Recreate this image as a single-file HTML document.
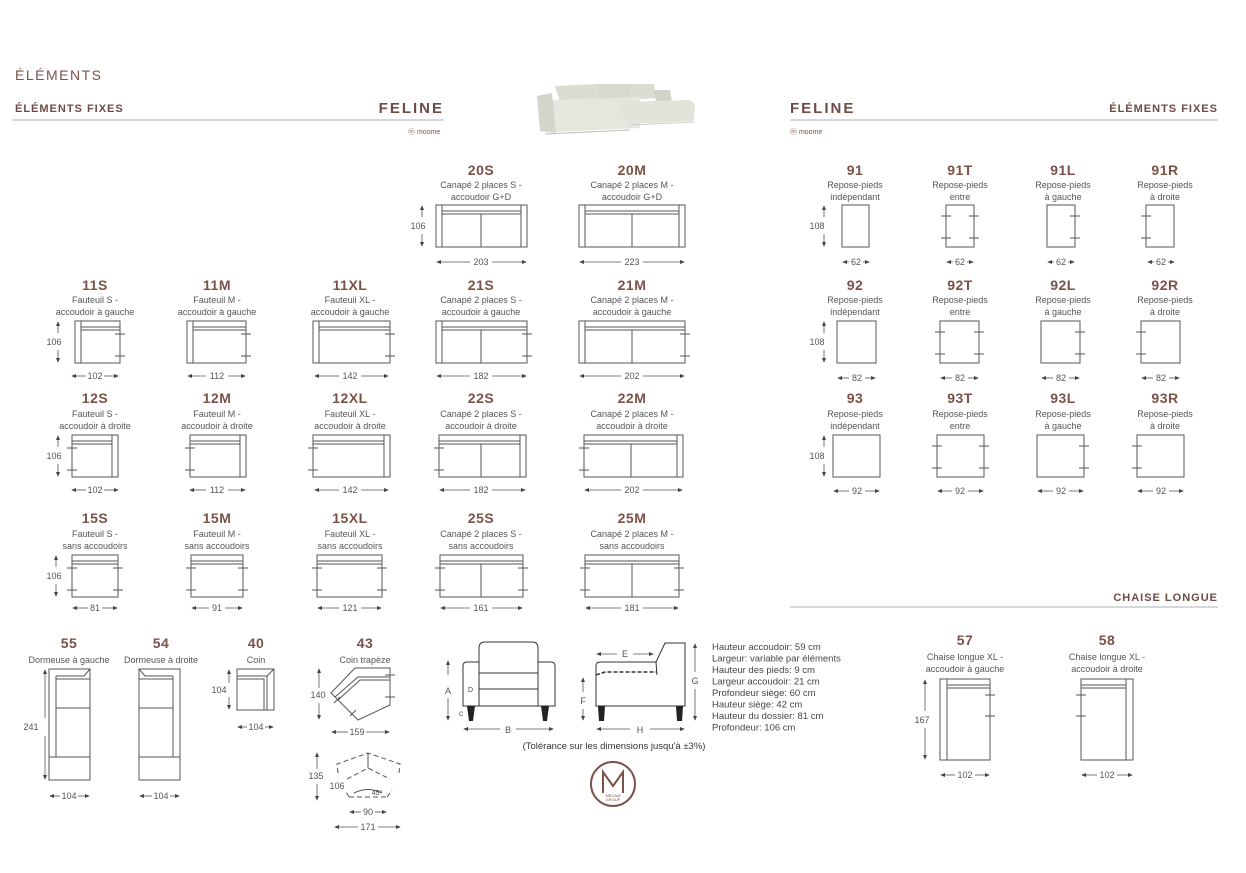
<!DOCTYPE html>
<html><head><meta charset="utf-8"><style>
html,body{margin:0;padding:0;background:#fff}
svg{display:block}
text{font-family:"Liberation Sans",sans-serif;fill:#444}
.t{font-size:14px;font-weight:bold;fill:#7b5249;text-anchor:middle;letter-spacing:0.5px}
.d{font-size:9px;text-anchor:middle;fill:#555}
.n{font-size:9px;text-anchor:middle;fill:#555}
.s{stroke:#555;stroke-width:1;fill:none}
.a{stroke:#555;stroke-width:0.8;fill:none;marker-end:url(#ah)}
.h{font-size:12px;font-weight:bold;fill:#6e4c45;letter-spacing:1px}
</style></head><body>
<svg width="1246" height="873" viewBox="0 0 1246 873" xmlns="http://www.w3.org/2000/svg">
<defs><marker id="ah" markerWidth="6" markerHeight="6" refX="5" refY="3" orient="auto"><path d="M0,0.5 L6,3 L0,5.5z" fill="#444"/></marker></defs>

<!-- header -->
<text x="15" y="80" style="font-size:14px;letter-spacing:1.5px;fill:#7b5249">ÉLÉMENTS</text>
<text x="15" y="112" class="h" style="font-size:11px">ÉLÉMENTS FIXES</text>
<text x="444" y="113" class="h" style="font-size:15px;text-anchor:end;letter-spacing:2px">FELINE</text>
<line x1="12" y1="120" x2="444" y2="120" stroke="#999" stroke-width="0.8"/>
<text x="408" y="134" style="font-size:7px;fill:#7b5249">ⓜ moome</text>
<text x="790" y="113" class="h" style="font-size:15px;letter-spacing:2px">FELINE</text>
<text x="1218" y="112" class="h" style="font-size:11px;text-anchor:end">ÉLÉMENTS FIXES</text>
<line x1="790" y1="120" x2="1218" y2="120" stroke="#999" stroke-width="0.8"/>
<text x="790" y="134" style="font-size:7px;fill:#7b5249">ⓜ moome</text>
<!-- sofa photo -->
<g>
<path d="M555,86 L596,84 L600,100 L560,102Z" fill="#dcdcd2"/>
<path d="M596,84 L630,84 L632,100 L600,100Z" fill="#d8d8ce"/>
<path d="M630,84 L654,84 L656,98 L632,100Z" fill="#dcdcd2"/>
<path d="M654,90 L670,90 L672,102 L656,102Z" fill="#d2d2c8"/>
<path d="M552,100 L640,97 L640,128 L555,132Z" fill="#e6e6de"/>
<path d="M620,102 L690,100 L695,104 L694,121 L625,124Z" fill="#e3e3da"/>
<path d="M537,96 L552,93 L556,133 L540,131Z" fill="#d4d4ca"/>
<line x1="545" y1="134" x2="630" y2="130" stroke="#bbb"/>
<line x1="630" y1="125" x2="694" y2="122" stroke="#ccc"/>
</g>
<text x="1218" y="601" class="h" style="font-size:11px;text-anchor:end">CHAISE LONGUE</text>
<line x1="790" y1="607" x2="1218" y2="607" stroke="#999" stroke-width="0.8"/>

<!-- ===== row 20 ===== -->
<text x="481" y="175" class="t">20S</text>
<text x="481" y="188" class="d">Canapé 2 places S -</text><text x="481" y="200" class="d">accoudoir  G+D</text>
<rect x="436" y="205" width="91" height="42" class="s"/>
<path class="s" d="M442,205V247M521,205V247M442,211H521M442,214H521M481,214V247"/>
<text x="632" y="175" class="t">20M</text>
<text x="632" y="188" class="d">Canapé 2 places M -</text><text x="632" y="200" class="d">accoudoir  G+D</text>
<rect x="579" y="205" width="106" height="42" class="s"/>
<path class="s" d="M585,205V247M679,205V247M585,211H679M585,214H679M632,214V247"/>
<text x="418" y="229" class="n">106</text>
<line x1="422" y1="217" x2="422" y2="206" class="a"/><line x1="422" y1="234" x2="422" y2="246" class="a"/>
<text x="481" y="265" class="n">203</text><line x1="470" y1="262" x2="437" y2="262" class="a"/><line x1="492" y1="262" x2="526" y2="262" class="a"/>
<text x="632" y="265" class="n">223</text><line x1="621" y1="262" x2="580" y2="262" class="a"/><line x1="643" y1="262" x2="684" y2="262" class="a"/>

<!-- ===== row 11 ===== -->
<text x="95" y="290" class="t">11S</text><text x="95" y="303" class="d">Fauteuil S -</text><text x="95" y="315" class="d">accoudoir à gauche</text>
<rect x="75" y="321" width="45" height="42" class="s"/><path class="s" d="M81,321V363M81,327H120M81,330H120M115,334H125M115,356H125M120,334V356"/>
<text x="217" y="290" class="t">11M</text><text x="217" y="303" class="d">Fauteuil M -</text><text x="217" y="315" class="d">accoudoir à gauche</text>
<rect x="187" y="321" width="59" height="42" class="s"/><path class="s" d="M193,321V363M193,327H246M193,330H246M241,334H251M241,356H251"/>
<text x="350" y="290" class="t">11XL</text><text x="350" y="303" class="d">Fauteuil XL -</text><text x="350" y="315" class="d">accoudoir à gauche</text>
<rect x="313" y="321" width="77" height="42" class="s"/><path class="s" d="M319,321V363M319,327H390M319,330H390M385,334H395M385,356H395"/>
<text x="481" y="290" class="t">21S</text><text x="481" y="303" class="d">Canapé 2 places S -</text><text x="481" y="315" class="d">accoudoir à gauche</text>
<rect x="436" y="321" width="91" height="42" class="s"/><path class="s" d="M442,321V363M442,327H527M442,330H527M481,330V363M522,334H532M522,356H532"/>
<text x="632" y="290" class="t">21M</text><text x="632" y="303" class="d">Canapé 2 places M -</text><text x="632" y="315" class="d">accoudoir à gauche</text>
<rect x="579" y="321" width="106" height="42" class="s"/><path class="s" d="M585,321V363M585,327H685M585,330H685M632,330V363M680,334H690M680,356H690"/>
<text x="54" y="345" class="n">106</text><line x1="58" y1="333" x2="58" y2="322" class="a"/><line x1="58" y1="350" x2="58" y2="362" class="a"/>
<text x="95" y="379" class="n">102</text><line x1="86" y1="376" x2="72" y2="376" class="a"/><line x1="104" y1="376" x2="118" y2="376" class="a"/>
<text x="217" y="379" class="n">112</text><line x1="206" y1="376" x2="188" y2="376" class="a"/><line x1="228" y1="376" x2="245" y2="376" class="a"/>
<text x="350" y="379" class="n">142</text><line x1="339" y1="376" x2="315" y2="376" class="a"/><line x1="361" y1="376" x2="388" y2="376" class="a"/>
<text x="481" y="379" class="n">182</text><line x1="470" y1="376" x2="437" y2="376" class="a"/><line x1="492" y1="376" x2="526" y2="376" class="a"/>
<text x="632" y="379" class="n">202</text><line x1="621" y1="376" x2="580" y2="376" class="a"/><line x1="643" y1="376" x2="684" y2="376" class="a"/>

<!-- ===== row 12 ===== -->
<text x="95" y="403" class="t">12S</text><text x="95" y="417" class="d">Fauteuil S -</text><text x="95" y="429" class="d">accoudoir à droite</text>
<rect x="72" y="435" width="46" height="42" class="s"/><path class="s" d="M112,435V477M72,441H112M72,444H112M67,448H77M67,470H77"/>
<text x="217" y="403" class="t">12M</text><text x="217" y="417" class="d">Fauteuil M -</text><text x="217" y="429" class="d">accoudoir à droite</text>
<rect x="190" y="435" width="56" height="42" class="s"/><path class="s" d="M240,435V477M190,441H240M190,444H240M185,448H195M185,470H195"/>
<text x="350" y="403" class="t">12XL</text><text x="350" y="417" class="d">Fauteuil XL -</text><text x="350" y="429" class="d">accoudoir à droite</text>
<rect x="313" y="435" width="77" height="42" class="s"/><path class="s" d="M384,435V477M313,441H384M313,444H384M308,448H318M308,470H318"/>
<text x="481" y="403" class="t">22S</text><text x="481" y="417" class="d">Canapé 2 places S -</text><text x="481" y="429" class="d">accoudoir à droite</text>
<rect x="439" y="435" width="87" height="42" class="s"/><path class="s" d="M520,435V477M439,441H520M439,444H520M481,444V477M434,448H444M434,470H444"/>
<text x="632" y="403" class="t">22M</text><text x="632" y="417" class="d">Canapé 2 places M -</text><text x="632" y="429" class="d">accoudoir à droite</text>
<rect x="584" y="435" width="99" height="42" class="s"/><path class="s" d="M677,435V477M584,441H677M584,444H677M631,444V477M579,448H589M579,470H589"/>
<text x="54" y="459" class="n">106</text><line x1="58" y1="447" x2="58" y2="436" class="a"/><line x1="58" y1="464" x2="58" y2="476" class="a"/>
<text x="95" y="493" class="n">102</text><line x1="86" y1="490" x2="72" y2="490" class="a"/><line x1="104" y1="490" x2="118" y2="490" class="a"/>
<text x="217" y="493" class="n">112</text><line x1="206" y1="490" x2="190" y2="490" class="a"/><line x1="228" y1="490" x2="245" y2="490" class="a"/>
<text x="350" y="493" class="n">142</text><line x1="339" y1="490" x2="315" y2="490" class="a"/><line x1="361" y1="490" x2="388" y2="490" class="a"/>
<text x="481" y="493" class="n">182</text><line x1="470" y1="490" x2="440" y2="490" class="a"/><line x1="492" y1="490" x2="525" y2="490" class="a"/>
<text x="632" y="493" class="n">202</text><line x1="621" y1="490" x2="585" y2="490" class="a"/><line x1="643" y1="490" x2="682" y2="490" class="a"/>

<!-- ===== row 15 ===== -->
<text x="95" y="523" class="t">15S</text><text x="95" y="537" class="d">Fauteuil S -</text><text x="95" y="549" class="d">sans accoudoirs</text>
<rect x="72" y="555" width="46" height="42" class="s"/><path class="s" d="M72,561H118M72,564H118M67,568H77M67,590H77M113,568H123M113,590H123"/>
<text x="217" y="523" class="t">15M</text><text x="217" y="537" class="d">Fauteuil M -</text><text x="217" y="549" class="d">sans accoudoirs</text>
<rect x="191" y="555" width="52" height="42" class="s"/><path class="s" d="M191,561H243M191,564H243M186,568H196M186,590H196M238,568H248M238,590H248"/>
<text x="350" y="523" class="t">15XL</text><text x="350" y="537" class="d">Fauteuil XL -</text><text x="350" y="549" class="d">sans accoudoirs</text>
<rect x="317" y="555" width="65" height="42" class="s"/><path class="s" d="M317,561H382M317,564H382M312,568H322M312,590H322M377,568H387M377,590H387"/>
<text x="481" y="523" class="t">25S</text><text x="481" y="537" class="d">Canapé 2 places S -</text><text x="481" y="549" class="d">sans accoudoirs</text>
<rect x="440" y="555" width="83" height="42" class="s"/><path class="s" d="M440,561H523M440,564H523M481,564V597M435,568H445M435,590H445M518,568H528M518,590H528"/>
<text x="632" y="523" class="t">25M</text><text x="632" y="537" class="d">Canapé 2 places M -</text><text x="632" y="549" class="d">sans accoudoirs</text>
<rect x="585" y="555" width="94" height="42" class="s"/><path class="s" d="M585,561H679M585,564H679M632,564V597M580,568H590M580,590H590M674,568H684M674,590H684"/>
<text x="54" y="579" class="n">106</text><line x1="56" y1="567" x2="56" y2="556" class="a"/><line x1="56" y1="584" x2="56" y2="596" class="a"/>
<text x="95" y="611" class="n">81</text><line x1="88" y1="608" x2="73" y2="608" class="a"/><line x1="102" y1="608" x2="117" y2="608" class="a"/>
<text x="217" y="611" class="n">91</text><line x1="209" y1="608" x2="192" y2="608" class="a"/><line x1="225" y1="608" x2="242" y2="608" class="a"/>
<text x="350" y="611" class="n">121</text><line x1="339" y1="608" x2="318" y2="608" class="a"/><line x1="361" y1="608" x2="381" y2="608" class="a"/>
<text x="481" y="611" class="n">161</text><line x1="470" y1="608" x2="441" y2="608" class="a"/><line x1="492" y1="608" x2="522" y2="608" class="a"/>
<text x="632" y="611" class="n">181</text><line x1="621" y1="608" x2="586" y2="608" class="a"/><line x1="643" y1="608" x2="678" y2="608" class="a"/>

<!-- ===== right: footstools ===== -->
<g>
<text x="855" y="175" class="t">91</text><text x="855" y="188" class="d">Repose-pieds</text><text x="855" y="200" class="d">indépendant</text>
<rect x="842" y="205" width="27" height="42" class="s"/>
<text x="960" y="175" class="t">91T</text><text x="960" y="188" class="d">Repose-pieds</text><text x="960" y="200" class="d">entre</text>
<rect x="946" y="205" width="28" height="42" class="s"/><path class="s" d="M941,216H951M941,238H951M969,216H979M969,238H979"/>
<text x="1063" y="175" class="t">91L</text><text x="1063" y="188" class="d">Repose-pieds</text><text x="1063" y="200" class="d">à gauche</text>
<rect x="1047" y="205" width="28" height="42" class="s"/><path class="s" d="M1070,216H1080M1070,238H1080"/>
<text x="1165" y="175" class="t">91R</text><text x="1165" y="188" class="d">Repose-pieds</text><text x="1165" y="200" class="d">à droite</text>
<rect x="1146" y="205" width="28" height="42" class="s"/><path class="s" d="M1141,216H1151M1141,238H1151"/>
<text x="817" y="229" class="n">108</text><line x1="824" y1="217" x2="824" y2="206" class="a"/><line x1="824" y1="234" x2="824" y2="246" class="a"/>
<text x="856" y="265" class="n">62</text><line x1="849" y1="262" x2="843" y2="262" class="a"/><line x1="863" y1="262" x2="869" y2="262" class="a"/>
<text x="960" y="265" class="n">62</text><line x1="953" y1="262" x2="947" y2="262" class="a"/><line x1="967" y1="262" x2="973" y2="262" class="a"/>
<text x="1061" y="265" class="n">62</text><line x1="1054" y1="262" x2="1048" y2="262" class="a"/><line x1="1068" y1="262" x2="1074" y2="262" class="a"/>
<text x="1161" y="265" class="n">62</text><line x1="1154" y1="262" x2="1148" y2="262" class="a"/><line x1="1168" y1="262" x2="1174" y2="262" class="a"/>

<text x="855" y="290" class="t">92</text><text x="855" y="303" class="d">Repose-pieds</text><text x="855" y="315" class="d">indépendant</text>
<rect x="837" y="321" width="39" height="42" class="s"/>
<text x="960" y="290" class="t">92T</text><text x="960" y="303" class="d">Repose-pieds</text><text x="960" y="315" class="d">entre</text>
<rect x="940" y="321" width="39" height="42" class="s"/><path class="s" d="M935,332H945M935,354H945M974,332H984M974,354H984"/>
<text x="1063" y="290" class="t">92L</text><text x="1063" y="303" class="d">Repose-pieds</text><text x="1063" y="315" class="d">à gauche</text>
<rect x="1041" y="321" width="39" height="42" class="s"/><path class="s" d="M1075,332H1085M1075,354H1085"/>
<text x="1165" y="290" class="t">92R</text><text x="1165" y="303" class="d">Repose-pieds</text><text x="1165" y="315" class="d">à droite</text>
<rect x="1141" y="321" width="39" height="42" class="s"/><path class="s" d="M1136,332H1146M1136,354H1146"/>
<text x="817" y="345" class="n">108</text><line x1="824" y1="333" x2="824" y2="322" class="a"/><line x1="824" y1="350" x2="824" y2="362" class="a"/>
<text x="857" y="381" class="n">82</text><line x1="849" y1="378" x2="838" y2="378" class="a"/><line x1="865" y1="378" x2="875" y2="378" class="a"/>
<text x="960" y="381" class="n">82</text><line x1="952" y1="378" x2="941" y2="378" class="a"/><line x1="968" y1="378" x2="978" y2="378" class="a"/>
<text x="1061" y="381" class="n">82</text><line x1="1053" y1="378" x2="1042" y2="378" class="a"/><line x1="1069" y1="378" x2="1079" y2="378" class="a"/>
<text x="1161" y="381" class="n">82</text><line x1="1153" y1="378" x2="1142" y2="378" class="a"/><line x1="1169" y1="378" x2="1179" y2="378" class="a"/>

<text x="855" y="403" class="t">93</text><text x="855" y="417" class="d">Repose-pieds</text><text x="855" y="429" class="d">indépendant</text>
<rect x="833" y="435" width="47" height="42" class="s"/>
<text x="960" y="403" class="t">93T</text><text x="960" y="417" class="d">Repose-pieds</text><text x="960" y="429" class="d">entre</text>
<rect x="937" y="435" width="47" height="42" class="s"/><path class="s" d="M932,446H942M932,468H942M979,446H989M979,468H989"/>
<text x="1063" y="403" class="t">93L</text><text x="1063" y="417" class="d">Repose-pieds</text><text x="1063" y="429" class="d">à gauche</text>
<rect x="1037" y="435" width="47" height="42" class="s"/><path class="s" d="M1079,446H1089M1079,468H1089"/>
<text x="1165" y="403" class="t">93R</text><text x="1165" y="417" class="d">Repose-pieds</text><text x="1165" y="429" class="d">à droite</text>
<rect x="1137" y="435" width="47" height="42" class="s"/><path class="s" d="M1132,446H1142M1132,468H1142"/>
<text x="817" y="459" class="n">108</text><line x1="824" y1="447" x2="824" y2="436" class="a"/><line x1="824" y1="464" x2="824" y2="476" class="a"/>
<text x="857" y="494" class="n">92</text><line x1="849" y1="491" x2="834" y2="491" class="a"/><line x1="865" y1="491" x2="879" y2="491" class="a"/>
<text x="960" y="494" class="n">92</text><line x1="952" y1="491" x2="938" y2="491" class="a"/><line x1="968" y1="491" x2="983" y2="491" class="a"/>
<text x="1061" y="494" class="n">92</text><line x1="1053" y1="491" x2="1038" y2="491" class="a"/><line x1="1069" y1="491" x2="1083" y2="491" class="a"/>
<text x="1161" y="494" class="n">92</text><line x1="1153" y1="491" x2="1138" y2="491" class="a"/><line x1="1169" y1="491" x2="1183" y2="491" class="a"/>
</g>

<!-- ===== bottom left ===== -->
<text x="69" y="648" class="t">55</text><text x="69" y="663" class="d">Dormeuse à gauche</text>
<rect x="49" y="669" width="41" height="111" class="s"/><path class="s" d="M56,676V757M56,676H84L90,669M56,679H90M56,708H90M49,757H90"/>
<text x="31" y="730" class="n">241</text><line x1="45" y1="718" x2="45" y2="670" class="a"/><line x1="45" y1="736" x2="45" y2="779" class="a"/>
<text x="69" y="799" class="n">104</text><line x1="60" y1="796" x2="50" y2="796" class="a"/><line x1="78" y1="796" x2="89" y2="796" class="a"/>
<text x="161" y="648" class="t">54</text><text x="161" y="663" class="d">Dormeuse à droite</text>
<rect x="139" y="669" width="41" height="111" class="s"/><path class="s" d="M173,676V757M173,676H145L139,669M139,679H173M139,708H173M139,757H180"/>
<text x="161" y="799" class="n">104</text><line x1="152" y1="796" x2="140" y2="796" class="a"/><line x1="170" y1="796" x2="179" y2="796" class="a"/>
<text x="256" y="648" class="t">40</text><text x="256" y="663" class="d">Coin</text>
<rect x="237" y="669" width="37" height="41" class="s"/><path class="s" d="M237,676H267V710M237,679H264V710M267,676L274,669"/>
<text x="219" y="693" class="n">104</text><line x1="229" y1="683" x2="229" y2="670" class="a"/><line x1="229" y1="697" x2="229" y2="709" class="a"/>
<text x="256" y="730" class="n">104</text><line x1="247" y1="727" x2="238" y2="727" class="a"/><line x1="265" y1="727" x2="273" y2="727" class="a"/>
<text x="365" y="648" class="t">43</text><text x="365" y="663" class="d">Coin trapèze</text>
<polygon points="331,693 355,668 390,668 390,705 358,720" class="s"/><path class="s" d="M338,700L360,680H390M335,697L358,677H390M385,675H395M385,697H395M334,703L340,697M350,716L356,710"/>
<text x="318" y="698" class="n">140</text><line x1="319" y1="688" x2="319" y2="669" class="a"/><line x1="319" y1="703" x2="319" y2="719" class="a"/>
<text x="357" y="735" class="n">159</text><line x1="348" y1="732" x2="332" y2="732" class="a"/><line x1="366" y1="732" x2="389" y2="732" class="a"/>
<path class="s" stroke-dasharray="5,3" d="M338,773L337,764L368,753L400,764L399,773M347,779L368,768L390,779M349,797L345,790M387,797L392,790M349,797H387"/>
<path class="s" d="M368,753V768M354,793Q368,786 382,793" stroke-width="0.6"/>
<text x="377" y="795" style="font-size:7px;text-anchor:middle">45°</text>
<text x="316" y="779" class="n">135</text><line x1="317" y1="769" x2="317" y2="753" class="a"/><line x1="317" y1="784" x2="317" y2="800" class="a"/>
<text x="337" y="789" class="n">106</text>
<text x="368" y="815" class="n">90</text><line x1="361" y1="812" x2="350" y2="812" class="a"/><line x1="375" y1="812" x2="386" y2="812" class="a"/>
<text x="368" y="830" class="n">171</text><line x1="358" y1="827" x2="335" y2="827" class="a"/><line x1="378" y1="827" x2="400" y2="827" class="a"/>

<!-- armchair diagrams -->
<g stroke="#333" stroke-width="1" fill="none">
<path d="M463,706V666Q463,662 467,662H479V648Q479,642 485,642H532Q538,642 538,648V662H551Q555,662 555,666V706Z"/>
<path d="M479,662V706M538,662V706M479,673H538M479,689H538"/>
<path d="M596,706V666Q596,662 600,662H656L665,643H685V706Z"/>
<path d="M596,675L605,672H657" stroke-dasharray="4,2" stroke-width="1.5"/>
<path d="M656,662L657,675"/>
</g>
<g fill="#222"><path d="M467,706h8l-2,15h-4z"/><path d="M541,706h8l-2,15h-4z"/><path d="M598,706h7l-1,15h-5z"/><path d="M676,706h7l-1,15h-5z"/></g>
<line x1="448" y1="675" x2="448" y2="661" class="a"/><line x1="448" y1="698" x2="448" y2="720" class="a"/><text x="448" y="694" class="n">A</text>
<text x="459" y="716" style="font-size:6px">C</text>
<text x="468" y="692" style="font-size:7px">D</text>
<text x="508" y="733" class="n">B</text><line x1="500" y1="729" x2="464" y2="729" class="a"/><line x1="516" y1="729" x2="553" y2="729" class="a"/>
<text x="583" y="704" class="n">F</text><line x1="583" y1="692" x2="583" y2="678" class="a"/><line x1="583" y1="709" x2="583" y2="720" class="a"/>
<text x="625" y="657" class="n">E</text><line x1="617" y1="654" x2="597" y2="654" class="a"/><line x1="633" y1="654" x2="653" y2="654" class="a"/>
<text x="695" y="684" class="n">G</text><line x1="695" y1="672" x2="695" y2="644" class="a"/><line x1="695" y1="689" x2="695" y2="720" class="a"/>
<text x="640" y="733" class="n">H</text><line x1="630" y1="729" x2="597" y2="729" class="a"/><line x1="650" y1="729" x2="684" y2="729" class="a"/>
<g style="font-size:9.5px;fill:#333">
<text x="712" y="650">Hauteur accoudoir: 59 cm</text>
<text x="712" y="661.5">Largeur: variable par éléments</text>
<text x="712" y="673">Hauteur des pieds: 9 cm</text>
<text x="712" y="684.5">Largeur accoudoir: 21 cm</text>
<text x="712" y="696">Profondeur siège: 60 cm</text>
<text x="712" y="707.5">Hauteur siège: 42 cm</text>
<text x="712" y="719">Hauteur du dossier: 81 cm</text>
<text x="712" y="730.5">Profondeur: 106 cm</text>
</g>
<text x="614" y="749" style="font-size:9.5px;text-anchor:middle;fill:#333">(Tolérance sur les dimensions jusqu'à ±3%)</text>
<circle cx="613" cy="784" r="22" fill="none" stroke="#7b5249" stroke-width="2"/>
<path d="M603,793V772L613,786L623,772V793" fill="none" stroke="#7b5249" stroke-width="2"/>
<text x="613" y="797" style="font-size:4px;text-anchor:middle;fill:#7b5249">MECAM</text>
<text x="613" y="801" style="font-size:4px;text-anchor:middle;fill:#7b5249">GROUP</text>

<!-- chaise longue -->
<text x="965" y="645" class="t">57</text><text x="965" y="660" class="d">Chaise longue XL -</text><text x="965" y="672" class="d">accoudoir à gauche</text>
<rect x="940" y="679" width="50" height="81" class="s"/><path class="s" d="M947,679V760M947,685H990M947,688H990M985,695H995M985,716H995"/>
<text x="922" y="723" class="n">167</text><line x1="925" y1="711" x2="925" y2="680" class="a"/><line x1="925" y1="728" x2="925" y2="759" class="a"/>
<text x="965" y="778" class="n">102</text><line x1="955" y1="775" x2="941" y2="775" class="a"/><line x1="975" y1="775" x2="989" y2="775" class="a"/>
<text x="1107" y="645" class="t">58</text><text x="1107" y="660" class="d">Chaise longue XL -</text><text x="1107" y="672" class="d">accoudoir à droite</text>
<rect x="1081" y="679" width="52" height="81" class="s"/><path class="s" d="M1126,679V760M1081,685H1126M1081,688H1126M1076,695H1086M1076,716H1086"/>
<text x="1107" y="778" class="n">102</text><line x1="1097" y1="775" x2="1082" y2="775" class="a"/><line x1="1117" y1="775" x2="1132" y2="775" class="a"/>
</svg>
</body></html>
